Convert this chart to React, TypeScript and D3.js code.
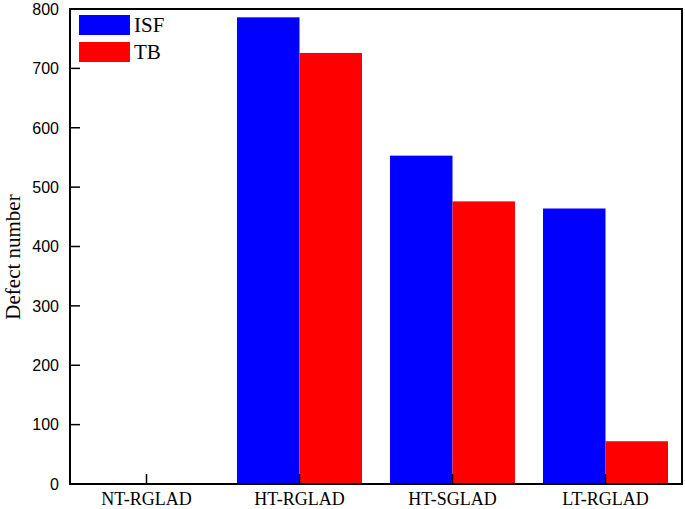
import React from "react";
import * as d3 from "d3";

const categories = ["NT-RGLAD", "HT-RGLAD", "HT-SGLAD", "LT-RGLAD"];
const isfValues = [0, 786, 553, 464];
const tbValues = [0, 726, 476, 72];
const yTicks = [0, 100, 200, 300, 400, 500, 600, 700, 800];
const seriesNames = ["ISF", "TB"];
const seriesColors = ["#0000ff", "#ff0000"];

export default function App() {
  const W = 685, H = 509;
  const left = 70, right = 682, top = 9, bottom = 484;
  const x = d3.scaleBand<string>().domain(categories).range([left, right]).paddingInner(0).paddingOuter(0);
  const y = d3.scaleLinear().domain([0, 800]).range([bottom, top]);
  const barW = 62.5;
  const series = [isfValues, tbValues];
  return (
    <svg width={W} height={H} style={{ position: "absolute", left: 0, top: 0 }}>
      <rect x={0} y={0} width={W} height={H} fill="#fff" />
      {categories.map((c, i) => {
        const cx = x(c)! + x.bandwidth() / 2;
        return series.map((vals, s) => (
          <rect key={c + s} x={cx - barW + s * barW} y={y(vals[i])} width={barW} height={bottom - y(vals[i])} fill={seriesColors[s]} />
        ));
      })}
      <rect x={left} y={top} width={right - left} height={bottom - top} fill="none" stroke="#000" strokeWidth={2} />
      {yTicks.map((t) => (
        <g key={t}>
          <line x1={left} x2={left + 10} y1={y(t)} y2={y(t)} stroke="#000" strokeWidth={1.5} />
          <text x={left - 11} y={y(t)} dy="0.36em" textAnchor="end" fontFamily="Arial, 'Liberation Sans', sans-serif" fontSize={16}>{t}</text>
        </g>
      ))}
      {categories.map((c) => {
        const cx = x(c)! + x.bandwidth() / 2;
        return (
          <g key={c}>
            <line x1={cx} x2={cx} y1={bottom} y2={bottom - 10} stroke="#000" strokeWidth={1.5} />
            <text x={cx} y={bottom + 21} textAnchor="middle" fontFamily="'Times New Roman', 'Liberation Serif', serif" fontSize={18}>{c}</text>
          </g>
        );
      })}
      <text transform={`translate(20,257) rotate(-90)`} textAnchor="middle" fontFamily="'Times New Roman', 'Liberation Serif', serif" fontSize={21}>Defect number</text>
      {seriesNames.map((n, i) => (
        <g key={n}>
          <rect x={79} y={15 + i * 27} width={51} height={20} fill={seriesColors[i]} />
          <text x={134} y={32 + i * 27} fontFamily="'Times New Roman', 'Liberation Serif', serif" fontSize={21}>{n}</text>
        </g>
      ))}
    </svg>
  );
}
